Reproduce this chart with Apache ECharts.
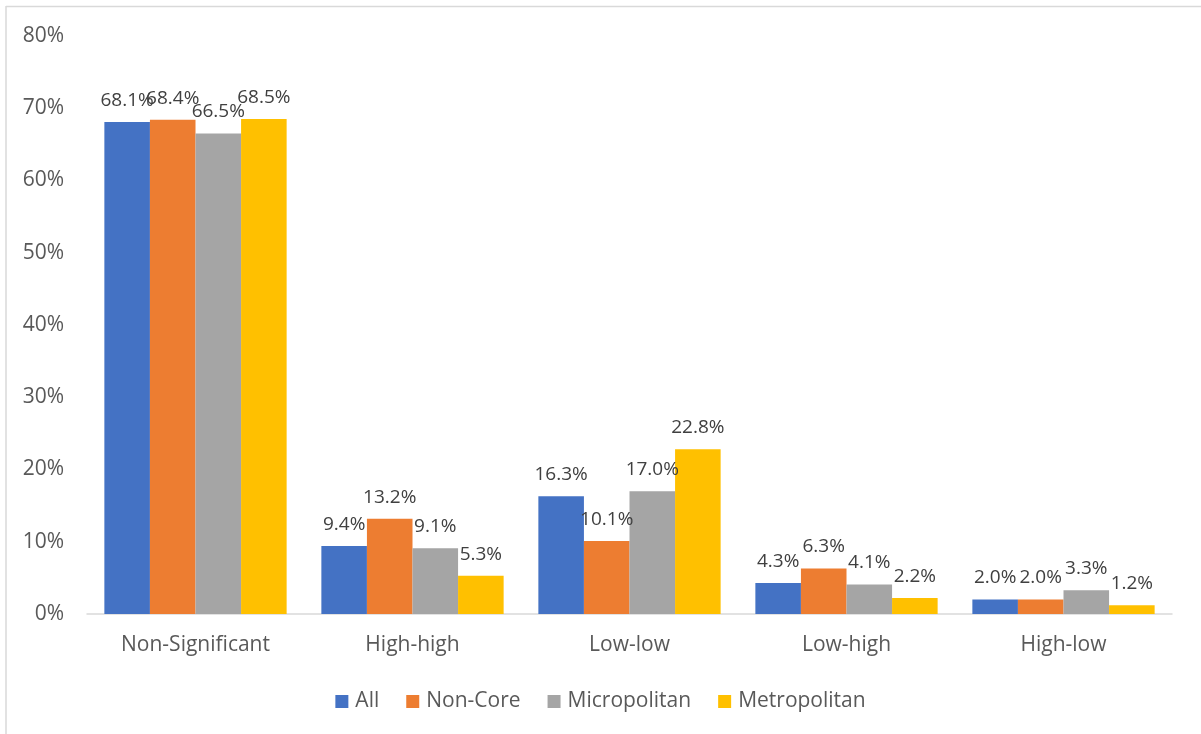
<!DOCTYPE html>
<html>
<head>
<meta charset="utf-8">
<script src="https://cdn.jsdelivr.net/npm/echarts@6/dist/echarts.min.js"></script>
<style>
html,body{margin:0;padding:0;background:#fff;}
#c{width:1201px;height:734px;}
</style>
</head>
<body>
<div id="c"></div>
<script>
const categories = ['Non-Significant', 'High-high', 'Low-low', 'Low-high', 'High-low'];
const seriesNames = ['All', 'Non-Core', 'Micropolitan', 'Metropolitan'];
const allVals = [68.1, 9.4, 16.3, 4.3, 2.0];
const nonCoreVals = [68.4, 13.2, 10.1, 6.3, 2.0];
const microVals = [66.5, 9.1, 17.0, 4.1, 3.3];
const metroVals = [68.5, 5.3, 22.8, 2.2, 1.2];
const yTicks = [0, 10, 20, 30, 40, 50, 60, 70, 80];

const colors = ['#4472C4', '#ED7D31', '#A5A5A5', '#FFC000'];
const font = '"Open Sans", "Liberation Sans", sans-serif';
const dataSets = [allVals, nonCoreVals, microVals, metroVals];

const chart = echarts.init(document.getElementById('c'));
chart.setOption({
  animation: false,
  color: colors,
  textStyle: { fontFamily: font },
  graphic: [
    { type: 'line', shape: { x1: 6, y1: 6.5, x2: 1201, y2: 6.5 }, style: { stroke: '#d9d9d9', lineWidth: 1.5 } },
    { type: 'line', shape: { x1: 6, y1: 6, x2: 6, y2: 734 }, style: { stroke: '#d9d9d9', lineWidth: 1.5 } }
  ],
  grid: { left: 87, right: 29, top: 36, bottom: 120 },
  legend: {
    data: seriesNames,
    bottom: 17,
    left: 'center',
    icon: 'rect',
    itemWidth: 13,
    itemHeight: 13,
    itemGap: 27,
    textStyle: { color: '#595959', fontSize: 21, fontFamily: font, padding: [0, 0, 0, 2] }
  },
  xAxis: {
    type: 'category',
    data: categories,
    axisLine: { lineStyle: { color: '#d9d9d9', width: 1.5 } },
    axisTick: { show: false },
    axisLabel: { color: '#595959', fontSize: 21, margin: 21, fontFamily: font }
  },
  yAxis: {
    type: 'value',
    min: yTicks[0],
    max: yTicks[yTicks.length - 1],
    interval: 10,
    splitLine: { show: false },
    axisLine: { show: false },
    axisTick: { show: false },
    axisLabel: { color: '#595959', fontSize: 21, margin: 23, formatter: v => v + '%', fontFamily: font }
  },
  series: seriesNames.map((name, i) => ({
    name: name,
    type: 'bar',
    data: dataSets[i],
    barGap: '0%',
    barCategoryGap: '16%',
    label: {
      show: true,
      position: 'top',
      distance: 12,
      color: '#404040',
      fontSize: 19,
      fontFamily: font,
      formatter: p => p.value.toFixed(1) + '%'
    }
  }))
});
</script>
</body>
</html>
